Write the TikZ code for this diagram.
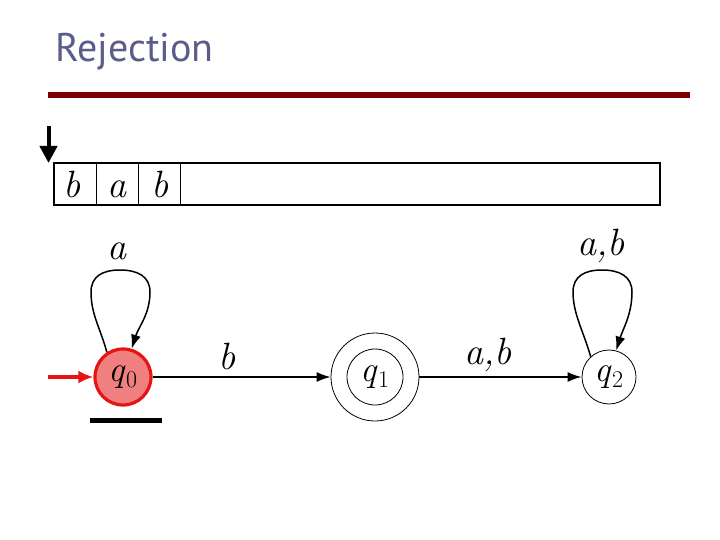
\documentclass[tikz,border=0pt]{standalone}
\usepackage{fontspec}
\newfontfamily\titlefont{PT Sans}
\usetikzlibrary{arrows.meta}
\definecolor{titlecol}{RGB}{92,92,138}
\definecolor{barcol}{RGB}{125,0,0}
\definecolor{qfill}{RGB}{240,128,128}
\definecolor{qdraw}{RGB}{230,20,20}
\newcommand{\qsub}[1]{q\kern1pt\raisebox{-6pt}{\fontsize{24}{24}\selectfont\upshape #1}}
\tikzset{
  stnode/.style={circle, draw, line width=0.8pt, minimum size=54pt, inner sep=0pt, font=\fontsize{36}{40}\selectfont\itshape},
  lbl/.style={inner sep=0pt, font=\fontsize{38}{42}\selectfont\itshape},
  arr/.style={line width=1.5pt, -{Latex[length=14pt,width=10pt]}},
}
\begin{document}
\begin{tikzpicture}[x=1pt,y=-1pt]
\useasboundingbox (0,0) rectangle (720,540);
% title
\node[anchor=base west, inner sep=0pt, text=titlecol, font=\titlefont\fontsize{40}{46}\selectfont] (title) at (55,62) {Rejection};
\draw[barcol, line width=5.5pt] (48,95) -- (690,95);
% tape
\draw[line width=1.2pt] (54,163) rectangle (660,205);
\draw[line width=1pt] (96,163) -- (96,205) (138,163) -- (138,205) (180,163) -- (180,205);
\node[lbl, anchor=base] (t1) at (72,197) {b};
\node[lbl, anchor=base] (t2) at (117,197) {a};
\node[lbl, anchor=base] (t3) at (160,197) {b};
% head
\coordinate (h1) at (48.5,126);
\coordinate (h2) at (48.5,163);
\draw[line width=4pt, -{Triangle[length=17pt,width=17pt]}] (h1) -- (h2);
% states
\node[stnode, fill=qfill, draw=qdraw, line width=3.2pt, minimum size=56pt] (q0) at (123,377) {\qsub{0}};
\node[stnode, minimum size=88pt] (q1) at (375,377) {};
\node[stnode, minimum size=56pt] (q1in) at (375,377) {\qsub{1}};
\node[stnode, minimum size=54pt] (q2) at (609,377) {\qsub{2}};
% initial arrow
\coordinate (init) at (48,377);
\draw[qdraw, line width=3.5pt, -{Latex[length=15pt,width=13pt]}] (init) -- (q0.west);
% bar under q0
\draw[line width=5pt] (90,420) -- (162,420);
% transitions
\draw[arr] (q0.east) -- (q1.west);
\draw[arr] (q1.east) -- (q2.west);
\draw[arr] (q0.123) .. controls +(-7,-25) and +(0,22) .. (91,292)
  .. controls +(0,-16) and +(-17,0) .. (120,270)
  .. controls +(17,0) and +(0,-16) .. (150,292)
  .. controls +(0,22) and +(7,-22) .. (q0.73);
\draw[arr] (q2.132) .. controls +(-7,-25) and +(0,22) .. (573,292)
  .. controls +(0,-16) and +(-17,0) .. (602,270)
  .. controls +(17,0) and +(0,-16) .. (632,292)
  .. controls +(0,22) and +(7,-22) .. (q2.75);
% labels
\node[lbl, anchor=base] (la) at (117,259) {a};
\node[lbl, anchor=base] (lb) at (227,369) {b};
\node[lbl, anchor=base] (lab1) at (488,364) {a,b};
\node[lbl, anchor=base] (lab2) at (601,255) {a,b};
\end{tikzpicture}
\end{document}
